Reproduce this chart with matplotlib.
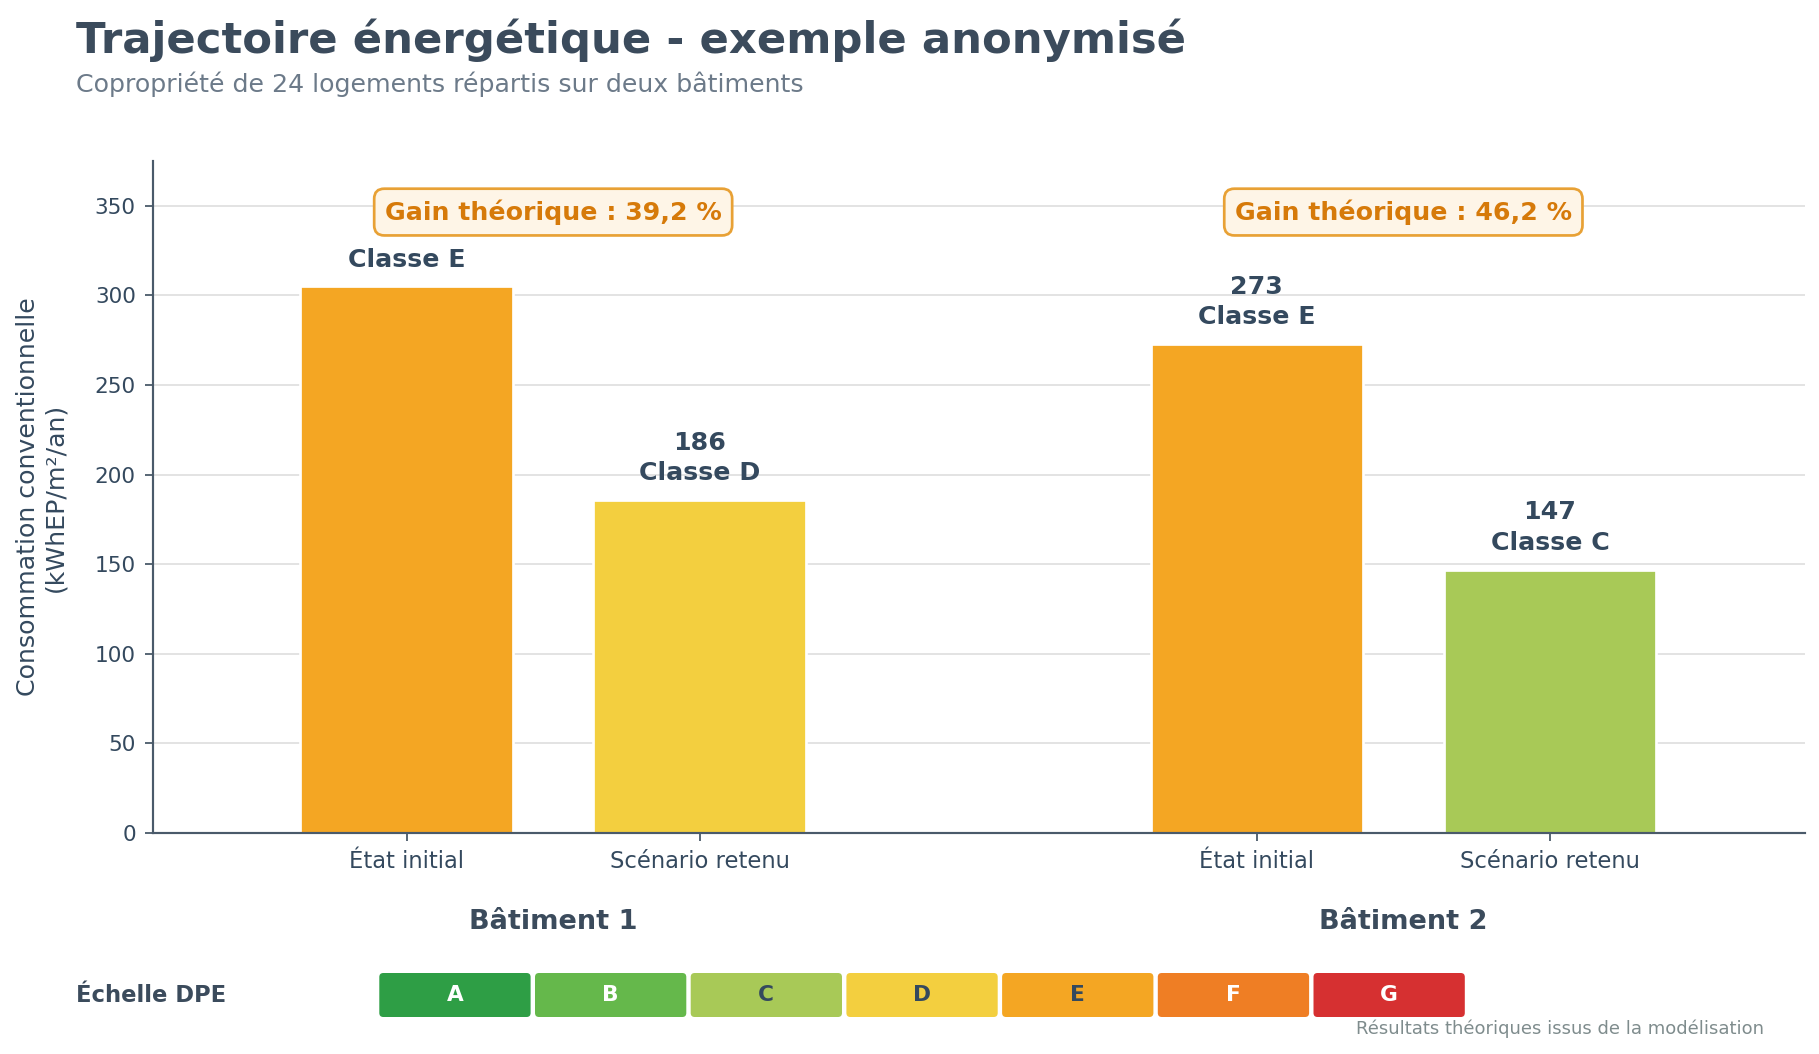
import matplotlib
matplotlib.use('Agg')
import matplotlib.pyplot as plt
import matplotlib.transforms as mtransforms
from matplotlib.patches import FancyBboxPatch

# ---------------- data ----------------
buildings = ['Bâtiment 1', 'Bâtiment 2']
scenarios = ['État initial', 'Scénario retenu']
consumption_b1 = [305, 186]
consumption_b2 = [273, 147]
classes_b1 = ['E', 'D']
classes_b2 = ['E', 'C']
gains = ['39,2', '46,2']
y_ticks = [0, 50, 100, 150, 200, 250, 300, 350]

dpe_letters = ['A', 'B', 'C', 'D', 'E', 'F', 'G']
dpe_colors = ['#2E9E45', '#65B84B', '#A8C957', '#F3CF3F', '#F4A623', '#EF7E24', '#D63031']
dpe_text_colors = ['white', 'white', '#34495E', '#34495E', '#34495E', 'white', 'white']

title = 'Trajectoire énergétique - exemple anonymisé'
subtitle = 'Copropriété de 24 logements répartis sur deux bâtiments'
y_label = 'Consommation conventionnelle\n(kWhEP/m²/an)'
footnote = 'Résultats théoriques issus de la modélisation'

# ---------------- style ----------------
DARK = '#34495E'
TITLE_C = '#3B4B5C'
GREY = '#6C7A89'
color_of = dict(zip(dpe_letters, dpe_colors))

W, H, DPI = 1819, 1054, 130
fig = plt.figure(figsize=(W / DPI, H / DPI), dpi=DPI, facecolor='white')
ax = fig.add_axes([153 / W, 1 - 833 / H, (1805 - 153) / W, (833 - 161) / H])

values = [consumption_b1, consumption_b2]
classes = [classes_b1, classes_b2]
group_offsets = [0.0, 2.9]

tick_pos, tick_lab = [], []
for g, (vals, cls) in enumerate(zip(values, classes)):
    xs = [group_offsets[g] + i for i in range(len(vals))]
    cols = [color_of[c] for c in cls]
    ax.bar(xs, vals, width=0.725, color=cols, edgecolor='white',
           linewidth=1.5, zorder=2)
    for x, v, c in zip(xs, vals, cls):
        ax.annotate(f'{v}\nClasse {c}', xy=(x, v), xytext=(0, 8),
                    textcoords='offset points', ha='center', va='bottom',
                    fontsize=14, fontweight='bold', color=DARK, zorder=3,
                    linespacing=1.35)
    tick_pos += xs
    tick_lab += scenarios
    center = sum(xs) / len(xs)
    ax.text(center, 346.5, f'Gain théorique : {gains[g]} %', ha='center',
            va='center', fontsize=14, fontweight='bold', color='#D67A0A',
            zorder=6,
            bbox=dict(boxstyle='round,pad=0.42,rounding_size=0.4',
                      facecolor='#FEF5E7', edgecolor='#E8A135', linewidth=1.5))
    trans = mtransforms.blended_transform_factory(ax.transData, ax.transAxes)
    ax.text(center, -0.132, buildings[g], transform=trans, ha='center',
            va='center', fontsize=15, fontweight='bold', color=TITLE_C)

ax.set_xticks(tick_pos)
ax.set_xticklabels(tick_lab)
ax.set_yticks(y_ticks)
ax.set_ylim(0, 375)
ax.set_xlim(-0.865, 4.77)
ax.set_ylabel(y_label, fontsize=14, color=DARK, labelpad=15)

ax.tick_params(axis='both', labelsize=12, colors='#4A5A6A', labelcolor=DARK,
               length=4.5, width=1, pad=5)
ax.tick_params(axis='x', labelsize=12.5)
for s in ['top', 'right']:
    ax.spines[s].set_visible(False)
for s in ['left', 'bottom']:
    ax.spines[s].set_color('#4A5A6A')
    ax.spines[s].set_linewidth(1.2)
ax.yaxis.grid(True, color='#E0E0E0', linewidth=1.0)
ax.set_axisbelow(True)

# ---------------- titles ----------------
fig.text(76 / W, 0.950, title, fontsize=24, fontweight='bold', color=TITLE_C,
         ha='left', va='baseline')
fig.text(76 / W, 0.913, subtitle, fontsize=14, color=GREY, ha='left',
         va='baseline')

# ---------------- DPE scale ----------------
fig.text(76 / W, 1 - 996 / H, 'Échelle DPE', fontsize=12.5, fontweight='bold',
         color=TITLE_C, ha='left', va='center')
step, bw, bh = 155.7, 151.3, 44.0
total_w = step * (len(dpe_letters) - 1) + bw
ax_dpe = fig.add_axes([379.3 / W, 1 - 1017 / H, total_w / W, bh / H])
ax_dpe.set_xlim(0, total_w)
ax_dpe.set_ylim(0, bh)
ax_dpe.axis('off')
for i, (L, c, tc) in enumerate(zip(dpe_letters, dpe_colors, dpe_text_colors)):
    p = FancyBboxPatch((i * step, 0), bw, bh,
                       boxstyle='round,pad=0,rounding_size=4',
                       facecolor=c, edgecolor='none')
    ax_dpe.add_patch(p)
    ax_dpe.text(i * step + bw / 2, bh / 2, L, ha='center', va='center',
                fontsize=12, fontweight='bold', color=tc)

fig.text(1764 / W, 0.019, footnote, fontsize=10, color='#7F8C8D', ha='right',
         va='baseline')

fig.savefig('out.png', dpi=DPI, facecolor='white')
